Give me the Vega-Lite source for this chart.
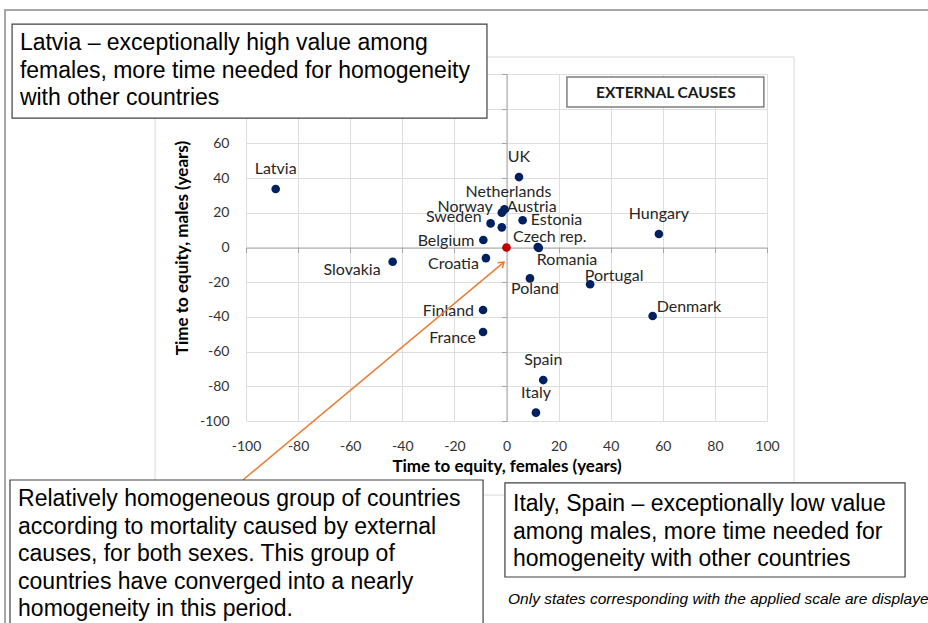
{
  "$schema": "https://vega.github.io/schema/vega-lite/v6.json",
  "width": 521,
  "height": 347,
  "autosize": {"type": "none"},
  "padding": {"left": 246, "top": 74, "right": 161, "bottom": 202},
  "background": "white",
  "config": {"view": {"stroke": null}, "font": "Lato"},
  "datasets": {
    "countries": [
      {"country": "Latvia", "female": -88.6, "male": 33.7},
      {"country": "UK", "female": 4.8, "male": 40.6},
      {"country": "Netherlands", "female": -0.8, "male": 22.0},
      {"country": "Norway", "female": -1.8, "male": 20.1},
      {"country": "Austria", "female": -1.8, "male": 11.6},
      {"country": "Sweden", "female": -6.1, "male": 13.9},
      {"country": "Estonia", "female": 6.2, "male": 15.7},
      {"country": "Belgium", "female": -8.9, "male": 4.3},
      {"country": "Croatia", "female": -7.9, "male": -6.1},
      {"country": "Czech rep.", "female": 12.0, "male": 0.3},
      {"country": "Romania", "female": 12.4, "male": -0.2},
      {"country": "Poland", "female": 9.0, "male": -17.8},
      {"country": "Portugal", "female": 32.1, "male": -21.2},
      {"country": "Hungary", "female": 58.5, "male": 7.8},
      {"country": "Slovakia", "female": -43.7, "male": -8.2},
      {"country": "Finland", "female": -9.0, "male": -36.0},
      {"country": "France", "female": -9.0, "male": -48.7},
      {"country": "Denmark", "female": 56.1, "male": -39.5},
      {"country": "Spain", "female": 14.1, "male": -76.4},
      {"country": "Italy", "female": 11.3, "male": -95.2}
    ],
    "origin": [{"country": "Reference", "female": 0, "male": 0}],
    "one": [{"item": "annotation"}]
  },
  "resolve": {"axis": {"x": "independent", "y": "independent"}},
  "layer": [
    {
      "data": {"name": "one"},
      "mark": {"type": "rect", "fill": "white", "fillOpacity": 0, "stroke": "#a6a6a6", "strokeWidth": 2},
      "encoding": {
        "x": {"datum": -192.5, "type": "quantitative", "scale": {"domain": [-100, 100], "nice": false, "zero": false}, "axis": null},
        "x2": {"datum": 166},
        "y": {"datum": 136.9, "type": "quantitative", "scale": {"domain": [-100, 100], "nice": false, "zero": false}, "axis": null},
        "y2": {"datum": -280}
      }
    },
    {
      "data": {"name": "one"},
      "mark": {"type": "rect", "fill": "white", "fillOpacity": 0, "stroke": "#d9d9d9", "strokeWidth": 1},
      "encoding": {
        "x": {"datum": -134.9, "type": "quantitative", "scale": {"domain": [-100, 100], "nice": false, "zero": false}, "axis": null},
        "x2": {"datum": 110.4},
        "y": {"datum": 109.8, "type": "quantitative", "scale": {"domain": [-100, 100], "nice": false, "zero": false}, "axis": null},
        "y2": {"datum": -142.7}
      }
    },
    {
      "data": {"name": "countries"},
      "mark": {"type": "circle", "size": 75, "color": "#002060", "opacity": 1},
      "encoding": {
        "x": {
          "field": "female", "type": "quantitative",
          "scale": {"domain": [-100, 100], "nice": false, "zero": false},
          "axis": {
            "orient": "bottom", "values": [-100, -80, -60, -40, -20, 0, 20, 40, 60, 80, 100],
            "grid": true, "gridColor": "#dedede", "domain": false, "ticks": false, "labelFlush": false,
            "labelExpr": "toString(datum.value)",
            "labelFont": "Lato", "labelFontSize": 14, "labelColor": "#333333", "labelPadding": 18,
            "title": "Time to equity, females (years)", "titleFont": "Lato", "titleFontSize": 17,
            "titleFontWeight": "bold", "titleColor": "#000000", "titlePadding": 5
          }
        },
        "y": {
          "field": "male", "type": "quantitative",
          "scale": {"domain": [-100, 100], "nice": false, "zero": false},
          "axis": {
            "orient": "left", "values": [-100, -80, -60, -40, -20, 0, 20, 40, 60, 80, 100],
            "grid": true, "gridColor": "#dedede", "domain": false, "ticks": false, "labelFlush": false,
            "labelExpr": "datum.value > 60 ? '' : toString(datum.value)",
            "labelFont": "Lato", "labelFontSize": 14, "labelColor": "#333333", "labelPadding": 17,
            "title": "Time to equity, males (years)", "titleFont": "Lato", "titleFontSize": 17,
            "titleFontWeight": "bold", "titleColor": "#000000", "titlePadding": 8
          }
        }
      }
    },
    {
      "data": {"name": "origin"},
      "mark": {"type": "circle", "size": 75, "color": "#C00000", "opacity": 1},
      "encoding": {
        "x": {
          "field": "female", "type": "quantitative",
          "scale": {"domain": [-100, 100], "nice": false, "zero": false},
          "axis": {
            "orient": "bottom", "offset": -173.5, "values": [-100, -80, -60, -40, -20, 0, 20, 40, 60, 80, 100],
            "grid": false, "domain": true, "domainColor": "#a6a6a6", "ticks": true, "tickColor": "#a6a6a6",
            "tickSize": 5, "labels": false, "title": null
          }
        },
        "y": {
          "field": "male", "type": "quantitative",
          "scale": {"domain": [-100, 100], "nice": false, "zero": false},
          "axis": {
            "orient": "left", "offset": -260.5, "values": [-100, -80, -60, -40, -20, 0, 20, 40, 60, 80, 100],
            "grid": false, "domain": true, "domainColor": "#a6a6a6", "ticks": true, "tickColor": "#a6a6a6",
            "tickSize": 5, "labels": false, "title": null
          }
        }
      }
    },
    {
      "data": {"name": "countries"},
      "transform": [{"filter": {"field": "country", "oneOf": ["Latvia", "UK", "Hungary", "Spain", "Italy"]}}],
      "mark": {"type": "text", "align": "center", "baseline": "middle", "dx": 0, "dy": -20, "fontSize": 16, "font": "Lato", "color": "#262626"},
      "encoding": {"x": {"field": "female", "type": "quantitative", "scale": {"domain": [-100, 100], "nice": false, "zero": false}, "axis": null}, "y": {"field": "male", "type": "quantitative", "scale": {"domain": [-100, 100], "nice": false, "zero": false}, "axis": null}, "text": {"field": "country"}}
    },
    {
      "data": {"name": "countries"},
      "transform": [{"filter": {"field": "country", "oneOf": ["Netherlands"]}}],
      "mark": {"type": "text", "align": "center", "baseline": "middle", "dx": 4, "dy": -17, "fontSize": 16, "font": "Lato", "color": "#262626"},
      "encoding": {"x": {"field": "female", "type": "quantitative", "scale": {"domain": [-100, 100], "nice": false, "zero": false}, "axis": null}, "y": {"field": "male", "type": "quantitative", "scale": {"domain": [-100, 100], "nice": false, "zero": false}, "axis": null}, "text": {"field": "country"}}
    },
    {
      "data": {"name": "countries"},
      "transform": [{"filter": {"field": "country", "oneOf": ["Norway", "Sweden"]}}],
      "mark": {"type": "text", "align": "right", "baseline": "middle", "dx": -9, "dy": -6, "fontSize": 16, "font": "Lato", "color": "#262626"},
      "encoding": {"x": {"field": "female", "type": "quantitative", "scale": {"domain": [-100, 100], "nice": false, "zero": false}, "axis": null}, "y": {"field": "male", "type": "quantitative", "scale": {"domain": [-100, 100], "nice": false, "zero": false}, "axis": null}, "text": {"field": "country"}}
    },
    {
      "data": {"name": "countries"},
      "transform": [{"filter": {"field": "country", "oneOf": ["Belgium", "Finland"]}}],
      "mark": {"type": "text", "align": "right", "baseline": "middle", "dx": -9, "dy": 1, "fontSize": 16, "font": "Lato", "color": "#262626"},
      "encoding": {"x": {"field": "female", "type": "quantitative", "scale": {"domain": [-100, 100], "nice": false, "zero": false}, "axis": null}, "y": {"field": "male", "type": "quantitative", "scale": {"domain": [-100, 100], "nice": false, "zero": false}, "axis": null}, "text": {"field": "country"}}
    },
    {
      "data": {"name": "countries"},
      "transform": [{"filter": {"field": "country", "oneOf": ["Croatia", "France"]}}],
      "mark": {"type": "text", "align": "right", "baseline": "middle", "dx": -7, "dy": 6, "fontSize": 16, "font": "Lato", "color": "#262626"},
      "encoding": {"x": {"field": "female", "type": "quantitative", "scale": {"domain": [-100, 100], "nice": false, "zero": false}, "axis": null}, "y": {"field": "male", "type": "quantitative", "scale": {"domain": [-100, 100], "nice": false, "zero": false}, "axis": null}, "text": {"field": "country"}}
    },
    {
      "data": {"name": "countries"},
      "transform": [{"filter": {"field": "country", "oneOf": ["Slovakia"]}}],
      "mark": {"type": "text", "align": "right", "baseline": "middle", "dx": -12, "dy": 8, "fontSize": 16, "font": "Lato", "color": "#262626"},
      "encoding": {"x": {"field": "female", "type": "quantitative", "scale": {"domain": [-100, 100], "nice": false, "zero": false}, "axis": null}, "y": {"field": "male", "type": "quantitative", "scale": {"domain": [-100, 100], "nice": false, "zero": false}, "axis": null}, "text": {"field": "country"}}
    },
    {
      "data": {"name": "countries"},
      "transform": [{"filter": {"field": "country", "oneOf": ["Estonia"]}}],
      "mark": {"type": "text", "align": "left", "baseline": "middle", "dx": 8, "dy": 0, "fontSize": 16, "font": "Lato", "color": "#262626"},
      "encoding": {"x": {"field": "female", "type": "quantitative", "scale": {"domain": [-100, 100], "nice": false, "zero": false}, "axis": null}, "y": {"field": "male", "type": "quantitative", "scale": {"domain": [-100, 100], "nice": false, "zero": false}, "axis": null}, "text": {"field": "country"}}
    },
    {
      "data": {"name": "countries"},
      "transform": [{"filter": {"field": "country", "oneOf": ["Denmark"]}}],
      "mark": {"type": "text", "align": "left", "baseline": "middle", "dx": 4, "dy": -9, "fontSize": 16, "font": "Lato", "color": "#262626"},
      "encoding": {"x": {"field": "female", "type": "quantitative", "scale": {"domain": [-100, 100], "nice": false, "zero": false}, "axis": null}, "y": {"field": "male", "type": "quantitative", "scale": {"domain": [-100, 100], "nice": false, "zero": false}, "axis": null}, "text": {"field": "country"}}
    },
    {
      "data": {"name": "countries"},
      "transform": [{"filter": {"field": "country", "oneOf": ["Portugal"]}}],
      "mark": {"type": "text", "align": "center", "baseline": "middle", "dx": 24, "dy": -8, "fontSize": 16, "font": "Lato", "color": "#262626"},
      "encoding": {"x": {"field": "female", "type": "quantitative", "scale": {"domain": [-100, 100], "nice": false, "zero": false}, "axis": null}, "y": {"field": "male", "type": "quantitative", "scale": {"domain": [-100, 100], "nice": false, "zero": false}, "axis": null}, "text": {"field": "country"}}
    },
    {
      "data": {"name": "countries"},
      "transform": [{"filter": {"field": "country", "oneOf": ["Austria"]}}],
      "mark": {"type": "text", "align": "left", "baseline": "middle", "dx": 5, "dy": -20, "fontSize": 16, "font": "Lato", "color": "#262626"},
      "encoding": {"x": {"field": "female", "type": "quantitative", "scale": {"domain": [-100, 100], "nice": false, "zero": false}, "axis": null}, "y": {"field": "male", "type": "quantitative", "scale": {"domain": [-100, 100], "nice": false, "zero": false}, "axis": null}, "text": {"field": "country"}}
    },
    {
      "data": {"name": "countries"},
      "transform": [{"filter": {"field": "country", "oneOf": ["Czech rep."]}}],
      "mark": {"type": "text", "align": "center", "baseline": "middle", "dx": 12, "dy": -10, "fontSize": 16, "font": "Lato", "color": "#262626"},
      "encoding": {"x": {"field": "female", "type": "quantitative", "scale": {"domain": [-100, 100], "nice": false, "zero": false}, "axis": null}, "y": {"field": "male", "type": "quantitative", "scale": {"domain": [-100, 100], "nice": false, "zero": false}, "axis": null}, "text": {"field": "country"}}
    },
    {
      "data": {"name": "countries"},
      "transform": [{"filter": {"field": "country", "oneOf": ["Romania"]}}],
      "mark": {"type": "text", "align": "left", "baseline": "middle", "dx": -2, "dy": 12, "fontSize": 16, "font": "Lato", "color": "#262626"},
      "encoding": {"x": {"field": "female", "type": "quantitative", "scale": {"domain": [-100, 100], "nice": false, "zero": false}, "axis": null}, "y": {"field": "male", "type": "quantitative", "scale": {"domain": [-100, 100], "nice": false, "zero": false}, "axis": null}, "text": {"field": "country"}}
    },
    {
      "data": {"name": "countries"},
      "transform": [{"filter": {"field": "country", "oneOf": ["Poland"]}}],
      "mark": {"type": "text", "align": "center", "baseline": "middle", "dx": 5, "dy": 11, "fontSize": 16, "font": "Lato", "color": "#262626"},
      "encoding": {"x": {"field": "female", "type": "quantitative", "scale": {"domain": [-100, 100], "nice": false, "zero": false}, "axis": null}, "y": {"field": "male", "type": "quantitative", "scale": {"domain": [-100, 100], "nice": false, "zero": false}, "axis": null}, "text": {"field": "country"}}
    },
    {
      "data": {"name": "one"},
      "mark": {"type": "rect", "fill": "white", "stroke": "#7f7f7f", "strokeWidth": 1.5},
      "encoding": {
        "x": {"datum": 23.2, "type": "quantitative", "scale": {"domain": [-100, 100], "nice": false, "zero": false}, "axis": null},
        "x2": {"datum": 98.8},
        "y": {"datum": 98.3, "type": "quantitative", "scale": {"domain": [-100, 100], "nice": false, "zero": false}, "axis": null},
        "y2": {"datum": 81.0}
      }
    },
    {
      "data": {"name": "one"},
      "mark": {"type": "text", "text": "EXTERNAL CAUSES", "align": "center", "baseline": "middle", "font": "Lato", "fontSize": 15.5, "fontWeight": "bold", "color": "#1a1a1a"},
      "encoding": {
        "x": {"datum": 61.2, "type": "quantitative", "scale": {"domain": [-100, 100], "nice": false, "zero": false}, "axis": null},
        "y": {"datum": 89.0, "type": "quantitative", "scale": {"domain": [-100, 100], "nice": false, "zero": false}, "axis": null}
      }
    },
    {
      "data": {"name": "one"},
      "mark": {"type": "rule", "color": "#ED7D31", "strokeWidth": 1.5},
      "encoding": {
        "x": {"datum": -101.2, "type": "quantitative", "scale": {"domain": [-100, 100], "nice": false, "zero": false}, "axis": null},
        "x2": {"datum": -0.96},
        "y": {"datum": -134.0, "type": "quantitative", "scale": {"domain": [-100, 100], "nice": false, "zero": false}, "axis": null},
        "y2": {"datum": -8.4}
      }
    },
    {
      "data": {"name": "one"},
      "mark": {"type": "point", "shape": "M -0.7 1 L 0 0 L 0.7 1", "filled": false, "size": 110, "angle": 50, "color": "#ED7D31", "strokeWidth": 1.5, "opacity": 1},
      "encoding": {
        "x": {"datum": -0.96, "type": "quantitative", "scale": {"domain": [-100, 100], "nice": false, "zero": false}, "axis": null},
        "y": {"datum": -8.4, "type": "quantitative", "scale": {"domain": [-100, 100], "nice": false, "zero": false}, "axis": null}
      }
    },
    {
      "data": {"name": "one"},
      "mark": {"type": "rect", "fill": "white", "stroke": "#404040", "strokeWidth": 1.2},
      "encoding": {
        "x": {"datum": -189.8, "type": "quantitative", "scale": {"domain": [-100, 100], "nice": false, "zero": false}, "axis": null},
        "x2": {"datum": -7.5},
        "y": {"datum": 128.8, "type": "quantitative", "scale": {"domain": [-100, 100], "nice": false, "zero": false}, "axis": null},
        "y2": {"datum": 74.6}
      }
    },
    {
      "data": {"name": "one"},
      "mark": {"type": "text", "text": ["Latvia – exceptionally high value among", "females, more time needed for homogeneity", "with other countries"], "align": "left", "baseline": "alphabetic", "lineHeight": 27.5, "font": "Liberation Sans", "fontSize": 23, "color": "#000000"},
      "encoding": {
        "x": {"datum": -186.8, "type": "quantitative", "scale": {"domain": [-100, 100], "nice": false, "zero": false}, "axis": null},
        "y": {"datum": 113.8, "type": "quantitative", "scale": {"domain": [-100, 100], "nice": false, "zero": false}, "axis": null}
      }
    },
    {
      "data": {"name": "one"},
      "mark": {"type": "rect", "fill": "white", "stroke": "#404040", "strokeWidth": 1.2},
      "encoding": {
        "x": {"datum": -190.6, "type": "quantitative", "scale": {"domain": [-100, 100], "nice": false, "zero": false}, "axis": null},
        "x2": {"datum": -9.0},
        "y": {"datum": -134.0, "type": "quantitative", "scale": {"domain": [-100, 100], "nice": false, "zero": false}, "axis": null},
        "y2": {"datum": -226.5}
      }
    },
    {
      "data": {"name": "one"},
      "mark": {"type": "text", "text": ["Relatively homogeneous group of countries", "according to mortality caused by external", "causes, for both sexes. This group of", "countries have converged into a nearly", "homogeneity in this period."], "align": "left", "baseline": "alphabetic", "lineHeight": 27.6, "font": "Liberation Sans", "fontSize": 23, "color": "#000000"},
      "encoding": {
        "x": {"datum": -187.5, "type": "quantitative", "scale": {"domain": [-100, 100], "nice": false, "zero": false}, "axis": null},
        "y": {"datum": -149.0, "type": "quantitative", "scale": {"domain": [-100, 100], "nice": false, "zero": false}, "axis": null}
      }
    },
    {
      "data": {"name": "one"},
      "mark": {"type": "rect", "fill": "white", "stroke": "#404040", "strokeWidth": 1.2},
      "encoding": {
        "x": {"datum": -0.6, "type": "quantitative", "scale": {"domain": [-100, 100], "nice": false, "zero": false}, "axis": null},
        "x2": {"datum": 153.0},
        "y": {"datum": -135.7, "type": "quantitative", "scale": {"domain": [-100, 100], "nice": false, "zero": false}, "axis": null},
        "y2": {"datum": -189.9}
      }
    },
    {
      "data": {"name": "one"},
      "mark": {"type": "text", "text": ["Italy, Spain – exceptionally low value", "among males, more time needed for", "homogeneity with other countries"], "align": "left", "baseline": "alphabetic", "lineHeight": 27.5, "font": "Liberation Sans", "fontSize": 23, "color": "#000000"},
      "encoding": {
        "x": {"datum": 2.5, "type": "quantitative", "scale": {"domain": [-100, 100], "nice": false, "zero": false}, "axis": null},
        "y": {"datum": -151.9, "type": "quantitative", "scale": {"domain": [-100, 100], "nice": false, "zero": false}, "axis": null}
      }
    },
    {
      "data": {"name": "one"},
      "mark": {"type": "text", "text": "Only states corresponding with the applied scale are displayed", "align": "left", "baseline": "alphabetic", "font": "Liberation Sans", "fontSize": 15.5, "fontStyle": "italic", "color": "#000000"},
      "encoding": {
        "x": {"datum": 0.6, "type": "quantitative", "scale": {"domain": [-100, 100], "nice": false, "zero": false}, "axis": null},
        "y": {"datum": -205.5, "type": "quantitative", "scale": {"domain": [-100, 100], "nice": false, "zero": false}, "axis": null}
      }
    }
  ]
}
